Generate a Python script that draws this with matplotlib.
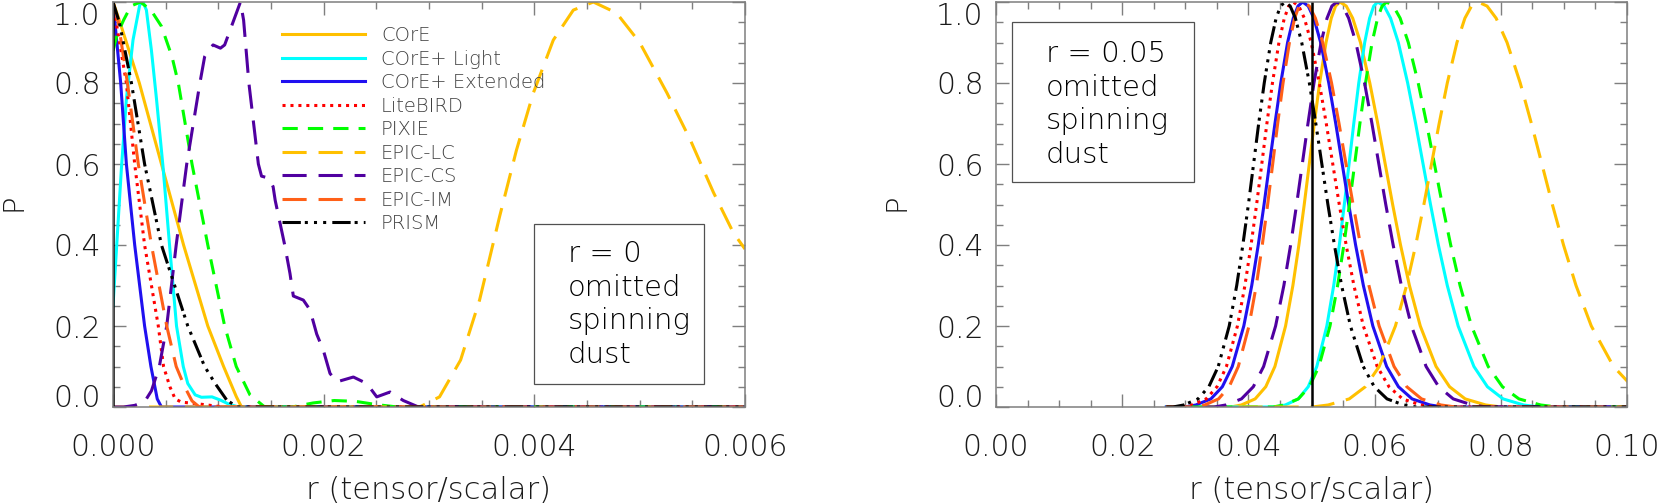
import matplotlib
matplotlib.use('Agg')
import matplotlib.pyplot as plt
from matplotlib.ticker import MultipleLocator, FormatStrFormatter
from matplotlib.patches import Rectangle

plt.rcParams['font.family'] = ['DejaVu Sans']
plt.rcParams['font.weight'] = 'light'
plt.rcParams['axes.labelweight'] = 'light'

NAMES = ['COrE', 'COrE+ Light', 'COrE+ Extended', 'LiteBIRD', 'PIXIE',
         'EPIC-LC', 'EPIC-CS', 'EPIC-IM', 'PRISM']

# ---- left panel: input r = 0 ----
CORE_R0 = [0, 0.00006, 0.00025, 0.00046, 0.00067, 0.0009, 0.00105, 0.00117, 0.00122, 0.006]
CORE_P0 = [1.0, 0.955, 0.8, 0.6, 0.4, 0.2, 0.1, 0.026, 0.0, 0.0]
LIGHT_R0 = [0, 0.00004, 0.00008, 0.000127, 0.00019, 0.000254, 0.000285, 0.000317, 0.000365,
            0.000413, 0.000476, 0.00054, 0.000603, 0.000667, 0.00071, 0.00078, 0.00084,
            0.00094, 0.00102, 0.0011, 0.00119, 0.006]
LIGHT_P0 = [0.25, 0.42, 0.59, 0.76, 0.906, 0.993, 1.0, 0.98, 0.88, 0.76, 0.59, 0.39, 0.2, 0.1,
            0.058, 0.03, 0.024, 0.025, 0.017, 0.007, 0.0, 0.0]
EXT_R0 = [0, 0.000073, 0.000127, 0.000206, 0.0003, 0.00036, 0.00042, 0.00046, 0.006]
EXT_P0 = [1.0, 0.8, 0.6, 0.4, 0.2, 0.1, 0.02, 0.0, 0.0]
LITE_R0 = [0, 0.00003, 0.000127, 0.000206, 0.0003, 0.00043, 0.00048, 0.00054, 0.00059,
           0.00065, 0.0008, 0.00105, 0.006]
LITE_P0 = [1.0, 0.95, 0.8, 0.6, 0.4, 0.2, 0.1, 0.05, 0.02, 0.012, 0.008, 0.0, 0.0]
PIXIE_R0 = [0, 0.00004, 0.0001, 0.00017, 0.00026, 0.00036, 0.00046, 0.00056, 0.00062, 0.00075,
            0.0009, 0.00106, 0.00117, 0.0013, 0.00144, 0.0017, 0.0019, 0.0021, 0.0023, 0.0025,
            0.0027, 0.006]
PIXIE_P0 = [0.88, 0.92, 0.955, 0.99, 1.0, 0.98, 0.94, 0.865, 0.8, 0.6, 0.4, 0.2, 0.1, 0.03, 0.0,
            0.0, 0.01, 0.016, 0.014, 0.006, 0.0, 0.0]
LC_R0 = [0, 0.00291, 0.0031, 0.0033, 0.00348, 0.00367, 0.00383, 0.00399, 0.00418, 0.00437,
         0.00456, 0.00478, 0.005, 0.00526, 0.00548, 0.0057, 0.00589, 0.006]
LC_P0 = [0, 0, 0.025, 0.116, 0.264, 0.47, 0.634, 0.775, 0.906, 0.98, 1.0, 0.973, 0.9, 0.775,
         0.66, 0.53, 0.43, 0.39]
CS_R0 = [0, 0.0001, 0.000206, 0.0003, 0.000365, 0.00044, 0.00051, 0.0006, 0.0007, 0.000825,
         0.00087, 0.000905, 0.00095, 0.00102, 0.00106, 0.00121, 0.00124, 0.00129, 0.00138,
         0.00141, 0.00148, 0.00152, 0.00154, 0.00163, 0.00168, 0.001712, 0.001807, 0.00187,
         0.001934, 0.001997, 0.00206, 0.002124, 0.002282, 0.002409, 0.002504, 0.00263,
         0.002756, 0.0029, 0.006]
CS_P0 = [0, 0, 0.004, 0.013, 0.04, 0.1, 0.2, 0.4, 0.6, 0.8, 0.865, 0.88, 0.894, 0.886, 0.894,
         1.0, 0.955, 0.8, 0.6, 0.57, 0.565, 0.544, 0.51, 0.4, 0.33, 0.274, 0.264, 0.24, 0.18,
         0.14, 0.083, 0.062, 0.074, 0.058, 0.025, 0.037, 0.016, 0.0, 0.0]
IM_R0 = [0, 0.00005, 0.000137, 0.00024, 0.000365, 0.00051, 0.0006, 0.00068, 0.00075, 0.00082, 0.006]
IM_P0 = [1.0, 0.95, 0.8, 0.6, 0.4, 0.2, 0.1, 0.05, 0.015, 0.0, 0.0]
PRISM_R0 = [0, 0.00006, 0.000175, 0.0003, 0.00046, 0.00071, 0.00087, 0.00097, 0.00108, 0.00118, 0.006]
PRISM_P0 = [1.0, 0.95, 0.8, 0.6, 0.4, 0.2, 0.1, 0.058, 0.017, 0.0, 0.0]

# ---- right panel: input r = 0.05 (all curves read at the same probability levels) ----
P05 = [0, 0, 0.005, 0.02, 0.05, 0.1, 0.2, 0.3, 0.4, 0.5, 0.6, 0.7, 0.8, 0.9, 0.96, 0.99, 1.0,
       0.99, 0.96, 0.9, 0.8, 0.7, 0.6, 0.5, 0.4, 0.3, 0.2, 0.1, 0.05, 0.02, 0.005, 0, 0]
CORE_R05 = [0.027, 0.03722, 0.03888, 0.04107, 0.04275, 0.0442, 0.04589, 0.04705, 0.048, 0.04885,
            0.04965, 0.05044, 0.05129, 0.0523, 0.05313, 0.05382, 0.0545,
            0.05551, 0.05653, 0.05776, 0.05924, 0.0605, 0.06168, 0.06286, 0.06411, 0.06552,
            0.06724, 0.06974, 0.07188, 0.07436, 0.07761, 0.08006, 0.1]
LIGHT_R05 = [0.027, 0.0443, 0.04585, 0.04791, 0.04948, 0.05084, 0.05243, 0.05352, 0.05441, 0.0552,
             0.05595, 0.0567, 0.05749, 0.05843, 0.05921, 0.05986, 0.0605,
             0.06151, 0.06253, 0.06376, 0.06524, 0.0665, 0.06768, 0.06886, 0.07011, 0.07152,
             0.07324, 0.07574, 0.07788, 0.08036, 0.08361, 0.08606, 0.1]
EXT_R05 = [0.027, 0.02988, 0.03167, 0.03406, 0.03587, 0.03744, 0.03927, 0.04053, 0.04156, 0.04248,
           0.04334, 0.04421, 0.04513, 0.04621, 0.04711, 0.04786, 0.0486,
           0.04948, 0.05037, 0.05145, 0.05274, 0.05384, 0.05487, 0.0559, 0.05699, 0.05822,
           0.05972, 0.06191, 0.06378, 0.06594, 0.06878, 0.07092, 0.1]
LITE_R05 = [0.027, 0.02935, 0.03105, 0.03331, 0.03503, 0.03652, 0.03826, 0.03945, 0.04042, 0.0413,
            0.04212, 0.04293, 0.04381, 0.04484, 0.04569, 0.0464, 0.0471,
            0.04798, 0.04887, 0.04995, 0.05124, 0.05234, 0.05337, 0.0544, 0.05549, 0.05672,
            0.05822, 0.06041, 0.06228, 0.06444, 0.06728, 0.06942, 0.1]
PIXIE_R05 = [0.027, 0.0439, 0.04562, 0.04791, 0.04966, 0.05117, 0.05293, 0.05414, 0.05513, 0.05601,
             0.05684, 0.05767, 0.05856, 0.0596, 0.06047, 0.06119, 0.0619,
             0.06297, 0.06405, 0.06534, 0.06691, 0.06824, 0.06948, 0.07073, 0.07206, 0.07354,
             0.07536, 0.078, 0.08026, 0.08288, 0.08631, 0.0889, 0.1]
LC_R05 = [0.027, 0.05012, 0.05264, 0.05598, 0.05853, 0.06073, 0.0633, 0.06507, 0.06652, 0.06781,
          0.06902, 0.07023, 0.07152, 0.07305, 0.07431, 0.07536, 0.0764,
          0.07782, 0.07926, 0.08099, 0.08308, 0.08485, 0.08651, 0.08817, 0.08994, 0.09192,
          0.09434, 0.09786, 0.10088, 0.10437, 0.10895, 0.1124, 0.12]
CS_R05 = [0.027, 0.03456, 0.03642, 0.0389, 0.04078, 0.04241, 0.04431, 0.04562, 0.04669, 0.04764,
          0.04854, 0.04944, 0.05039, 0.05152, 0.05246, 0.05323, 0.054,
          0.05494, 0.05589, 0.05703, 0.05841, 0.05958, 0.06067, 0.06177, 0.06294, 0.06424,
          0.06584, 0.06816, 0.07016, 0.07246, 0.07548, 0.07776, 0.1]
IM_R05 = [0.027, 0.03142, 0.03308, 0.03527, 0.03695, 0.0384, 0.04009, 0.04125, 0.0422, 0.04305,
          0.04385, 0.04464, 0.04549, 0.0465, 0.04733, 0.04802, 0.0487,
          0.04965, 0.05062, 0.05178, 0.05318, 0.05436, 0.05547, 0.05659, 0.05777, 0.0591,
          0.06072, 0.06308, 0.0651, 0.06744, 0.07051, 0.07282, 0.1]
PRISM_R05 = [0.027, 0.02805, 0.02975, 0.03201, 0.03373, 0.03522, 0.03696, 0.03815, 0.03912, 0.04,
             0.04082, 0.04163, 0.04251, 0.04354, 0.04439, 0.0451, 0.0458,
             0.04662, 0.04745, 0.04845, 0.04966, 0.05068, 0.05164, 0.0526, 0.05363, 0.05477,
             0.05617, 0.0582, 0.05995, 0.06197, 0.06461, 0.06661, 0.1]

LEFT = [(CORE_R0, CORE_P0), (LIGHT_R0, LIGHT_P0), (EXT_R0, EXT_P0), (LITE_R0, LITE_P0),
        (PIXIE_R0, PIXIE_P0), (LC_R0, LC_P0), (CS_R0, CS_P0), (IM_R0, IM_P0), (PRISM_R0, PRISM_P0)]
RIGHT = [(r, P05) for r in (CORE_R05, LIGHT_R05, EXT_R05, LITE_R05, PIXIE_R05,
                            LC_R05, CS_R05, IM_R05, PRISM_R05)]

LONG = (0, (7.9, 3.9))
STYLES = [('#FFC000', '-'), ('#00FFFF', '-'), ('#2010F0', '-'), ('#FF0000', (0, (1, 1.6))),
          ('#00FF00', (0, (5, 3.3))), ('#FFC000', LONG), ('#5000A0', LONG), ('#FF6018', LONG),
          ('#000000', (0, (6, 1.3, 1, 2, 1, 2, 1, 2)))]

GRAY = '#7f7f7f'
INK = '#1a1a1a'
LW = 2.2


def setup_axes(ax, xmax, xmajor, xminor, xfmt):
    ax.set_xlim(0, xmax)
    ax.set_ylim(0, 1.0)
    ax.xaxis.set_major_locator(MultipleLocator(xmajor))
    ax.xaxis.set_minor_locator(MultipleLocator(xminor))
    ax.xaxis.set_major_formatter(FormatStrFormatter(xfmt))
    ax.yaxis.set_major_locator(MultipleLocator(0.2))
    ax.yaxis.set_minor_locator(MultipleLocator(0.05))
    ax.yaxis.set_major_formatter(FormatStrFormatter('%.1f'))
    for s in ax.spines.values():
        s.set_color(GRAY)
        s.set_linewidth(1.1)
    ax.tick_params(which='both', direction='in', top=True, right=True, color=GRAY, width=1.0,
                   labelsize=21.5, labelcolor=INK)
    ax.tick_params(which='major', length=9.5)
    ax.tick_params(which='minor', length=5)
    ax.tick_params(axis='x', pad=19)
    ax.tick_params(axis='y', pad=9)
    ax.set_xlabel('r (tensor/scalar)', fontsize=22, color=INK)
    ax.set_ylabel('P', fontsize=21, color=INK)
    ax.xaxis.set_label_coords(0.5, -0.207)
    ax.xaxis.label.set_va('center')
    ax.yaxis.set_label_coords(-0.158, 0.506)
    ax.yaxis.label.set_va('center')


def fix_end_labels(ax):
    # end labels sit inside the axis range, as in the original
    for t in ax.yaxis.get_major_ticks():
        loc = t.get_loc()
        if loc is None:
            continue
        if abs(loc) < 1e-9:
            t.label1.set_va('baseline')
        elif abs(loc - 1.0) < 1e-9:
            t.label1.set_va('top')


def draw(ax, curves, truth):
    lines = []
    for (x, p), (col, ls), name in zip(curves, STYLES, NAMES):
        ln, = ax.plot(x, p, color=col, linestyle=ls, linewidth=LW, label=name)
        lines.append(ln)
    ax.plot([truth, truth], [0, 1], color='black', linewidth=1.8)
    return lines


def note(ax, rect, txt_xy, txt):
    x0, y0, x1, y1 = rect
    ax.add_patch(Rectangle((x0, y0), x1 - x0, y1 - y0, transform=ax.transAxes, fill=False,
                           edgecolor='#505050', linewidth=0.9, zorder=5))
    ax.text(txt_xy[0], txt_xy[1], txt, transform=ax.transAxes, fontsize=21, color='black',
            ha='left', va='center', linespacing=1.26, zorder=6)


fig = plt.figure(figsize=(16.61, 5.03), dpi=100)
ax1 = fig.add_axes([113 / 1661, 96 / 503, 632 / 1661, 405 / 503])
ax2 = fig.add_axes([996 / 1661, 96 / 503, 631 / 1661, 405 / 503])

lines = draw(ax1, LEFT, 0.0)
setup_axes(ax1, 0.006, 0.002, 0.0005, '%.3f')
note(ax1, (0.666, 0.057, 0.935, 0.452), (0.720, 0.253), 'r = 0\nomitted\nspinning\ndust')
ax1.legend(handles=lines, loc='upper left', bbox_to_anchor=(0.267, 0.94), frameon=False,
           fontsize=14, labelcolor='#404040', handlelength=4.3, handletextpad=0.8,
           labelspacing=0.23, borderpad=0, borderaxespad=0)

draw(ax2, RIGHT, 0.05)
setup_axes(ax2, 0.1, 0.02, 0.005, '%.2f')
note(ax2, (0.025, 0.556, 0.314, 0.951), (0.079, 0.747), 'r = 0.05\nomitted\nspinning\ndust')

fig.canvas.draw()
fix_end_labels(ax1)
fix_end_labels(ax2)

fig.savefig('out.png', dpi=100)
